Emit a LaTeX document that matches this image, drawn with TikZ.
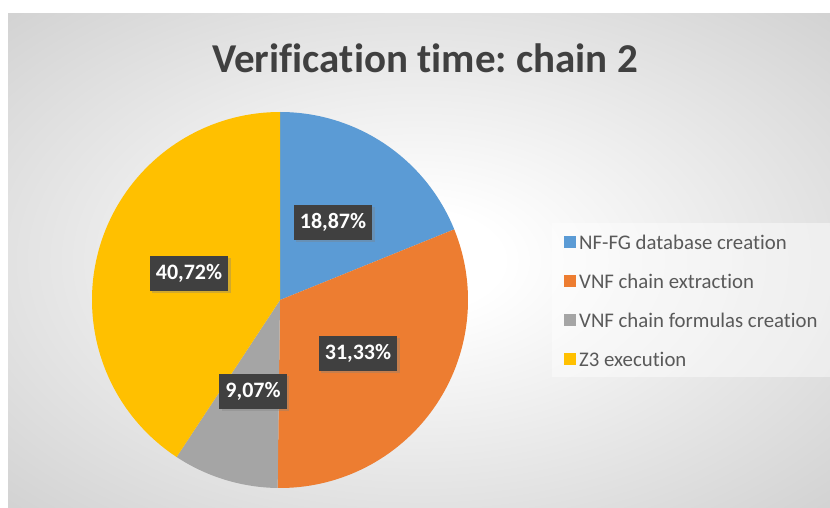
\documentclass[tikz,border=0pt]{standalone}
\usepackage{fontspec}
\setmainfont[Ligatures=NoCommon]{Carlito}
\frenchspacing
\usetikzlibrary{shadows}
\definecolor{bggray}{RGB}{198,198,198}
\definecolor{pieblue}{HTML}{5B9BD5}
\definecolor{pieorange}{HTML}{ED7D31}
\definecolor{piegray}{HTML}{A5A5A5}
\definecolor{pieyellow}{HTML}{FFC000}
\definecolor{titlecol}{HTML}{404040}
\definecolor{legcol}{HTML}{595959}
\definecolor{labelbg}{HTML}{404040}
\pgfdeclareradialshading{bgshade}{\pgfpoint{0bp}{0bp}}{color(0bp)=(white); color(5bp)=(white); color(44bp)=(bggray); color(75bp)=(bggray)}
\tikzset{
  datalabel/.style={fill=labelbg, text=white, font=\bfseries\fontsize{22}{24}\selectfont,
    inner xsep=6pt, minimum height=35pt,
    drop shadow={shadow xshift=2.5pt, shadow yshift=-2.5pt, opacity=0.35}},
  legsq/.style={minimum width=12pt, minimum height=12pt, inner sep=0pt},
  legtext/.style={anchor=west, text=legcol, font=\fontsize{20.8}{22}\selectfont, inner sep=0pt}
}
\begin{document}
\begin{tikzpicture}[x=1pt,y=1pt]
\useasboundingbox (0,0) rectangle (830,507);
\fill[white] (0,0) rectangle (830,507);
\shade[shading=bgshade] (8,0) rectangle (830,493);
% title
\node[anchor=base, text=titlecol, font=\bfseries\fontsize{41}{44}\selectfont, inner sep=0pt] (title) at (425,434) {Verifica\kern0pt tion t\kern0pt ime: chain 2};
% pie
\coordinate (c) at (280,207);
\fill[pieblue] (c) -- ++(90:188) arc[start angle=90, end angle=22.07, radius=188] -- cycle;
\fill[pieorange] (c) -- ++(22.07:188) arc[start angle=22.07, end angle=-90.72, radius=188] -- cycle;
\fill[piegray] (c) -- ++(-90.72:188) arc[start angle=-90.72, end angle=-123.37, radius=188] -- cycle;
\fill[pieyellow] (c) -- ++(-123.37:188) arc[start angle=-123.37, end angle=-270, radius=188] -- cycle;
% data labels
\node[datalabel] (l1) at (333,285) {18,87\%};
\node[datalabel] (l2) at (358,154) {31,33\%};
\node[datalabel] (l3) at (253,116) {9,07\%};
\node[datalabel] (l4) at (189,234) {40,72\%};
% legend
\fill[white, opacity=0.45] (552,130) rectangle (830,284);
\node[legsq, fill=pieblue] (s1) at (570,265) {};
\node[legtext] (t1) at (579,265) {NF-FG database creat\kern0pt ion};
\node[legsq, fill=pieorange] (s2) at (570,226) {};
\node[legtext] (t2) at (579,226) {VNF chain extract\kern0pt ion};
\node[legsq, fill=piegray] (s3) at (570,187) {};
\node[legtext] (t3) at (579,187) {VNF chain formulas creat\kern0pt ion};
\node[legsq, fill=pieyellow] (s4) at (570,148) {};
\node[legtext] (t4) at (579,148) {Z3 execut\kern0pt ion};
\end{tikzpicture}
\end{document}
